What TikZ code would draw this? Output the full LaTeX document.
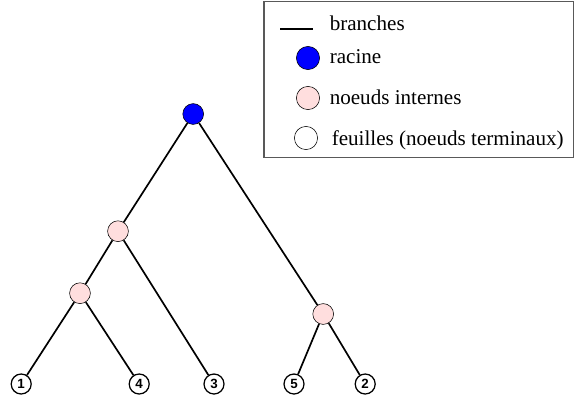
\documentclass[tikz,border=0pt]{standalone}
\usepackage{fontspec}
\setmainfont{Liberation Serif}
\newfontfamily\legendfont{Liberation Serif}
\newfontfamily\leaffont{Liberation Sans}
\usepackage{tikz}

\definecolor{rosepale}{RGB}{255,222,222}
\tikzset{
  branche/.style={line width=1.2pt, black},
  racinenode/.style={draw, circle, fill=blue, minimum size=0.52cm, inner sep=0pt},
  internenode/.style={draw, circle, fill=rosepale, minimum size=0.52cm, inner sep=0pt},
  feuille/.style={draw, circle, fill=white, line width=0.9pt, minimum size=0.5cm, inner sep=0pt, font=\leaffont\fontsize{9.5}{10}\selectfont\bfseries},
  legendtext/.style={anchor=base west, font=\legendfont\fontsize{15}{17}\selectfont},
}

\begin{document}
\begin{tikzpicture}
\useasboundingbox (0,0) rectangle (14.4,-9.95);
\def\lx{7.7}
\def\tx{8.12}
%legend
\draw[gray!70!black, line width=1pt] (6.6,-0.03) rectangle (14.33,-3.93);
\coordinate (la) at (7.0,-0.72);
\coordinate (lb) at (7.83,-0.72);
\draw[branche] (la) -- (lb);
\node[legendtext] (tb) at (\tx,-0.75) {branches};
\node[racinenode, minimum size=0.58cm] (lr) at (\lx,-1.45) {};
\node[legendtext] (tr) at (\tx,-1.58) {racine};
\node[internenode, minimum size=0.58cm] (li) at (\lx,-2.45) {};
\node[legendtext] (ti) at (\tx,-2.6) {noeuds internes};
\node[draw, circle, fill=white, minimum size=0.58cm] (lf) at (\lx-0.05,-3.45) {};
\node[legendtext] (tf) at (\tx+0.05,-3.63) {feuilles (noeuds terminaux)};
%tree
\node[racinenode] (R) at (4.83,-2.85) {};
\node[internenode] (A) at (2.95,-5.78) {};
\node[internenode] (B) at (2.0,-7.33) {};
\node[internenode] (C) at (8.08,-7.85) {};
%leaves
\foreach \n/\x in {1/0.53, 4/3.48, 3/5.35, 5/7.35, 2/9.13}
  \node[feuille] (f\n) at (\x,-9.6) {\n};
%branches
\draw[branche] (R) -- (A);
\draw[branche] (R) -- (C);
\draw[branche] (A) -- (B);
\draw[branche] (A) -- (f3);
\draw[branche] (B) -- (f1);
\draw[branche] (B) -- (f4);
\draw[branche] (C) -- (f5);
\draw[branche] (C) -- (f2);
\end{tikzpicture}
\end{document}
